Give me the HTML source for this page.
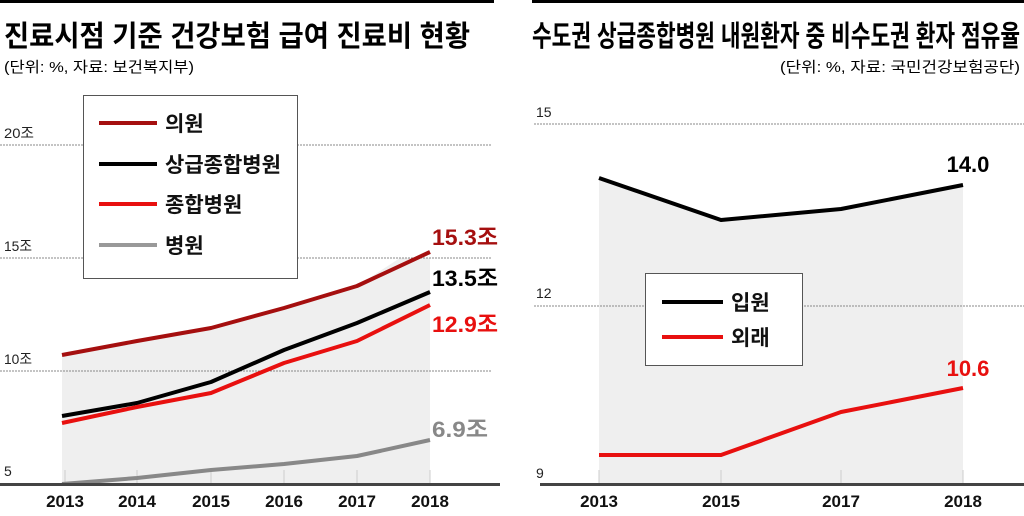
<!DOCTYPE html><html><head><meta charset="utf-8"><style>
body{margin:0;background:#fff;width:1024px;height:511px;overflow:hidden}
text{font-family:"Liberation Sans","Noto Sans CJK KR",sans-serif}
</style></head><body>
<svg width="1024" height="511" xmlns="http://www.w3.org/2000/svg">
<rect x="0" y="0" width="494" height="3" fill="#000"/>
<rect x="532" y="0" width="492" height="3" fill="#000"/>
<text x="4" y="46" font-size="29" font-weight="bold" textLength="466" lengthAdjust="spacingAndGlyphs">진료시점 기준 건강보험 급여 진료비 현황</text>
<text x="4" y="72" font-size="15" textLength="190" lengthAdjust="spacingAndGlyphs">(단위: %, 자료: 보건복지부)</text>
<text x="532" y="46" font-size="29" font-weight="bold" textLength="488" lengthAdjust="spacingAndGlyphs">수도권 상급종합병원 내원환자 중 비수도권 환자 점유율</text>
<text x="1020" y="72" font-size="15" text-anchor="end" textLength="240" lengthAdjust="spacingAndGlyphs">(단위: %, 자료: 국민건강보험공단)</text>
<!-- left chart -->
<polygon points="62,355 137,341 211,328 284,308 357,286 400,258 430,258 430,484 62,484" fill="#efefef"/>
<g stroke="#888" stroke-dasharray="2,1" stroke-width="1">
<line x1="0" y1="145" x2="492" y2="145"/><line x1="0" y1="258" x2="492" y2="258"/><line x1="0" y1="371" x2="492" y2="371"/>
</g>
<g font-size="14" fill="#222"><text x="4" y="138" textLength="30" lengthAdjust="spacingAndGlyphs">20조</text><text x="4" y="251" textLength="28" lengthAdjust="spacingAndGlyphs">15조</text><text x="4" y="364" textLength="28" lengthAdjust="spacingAndGlyphs">10조</text><text x="4" y="476">5</text></g>
<g stroke="#ccc" stroke-width="1"><line x1="65" y1="470" x2="65" y2="484"/><line x1="137" y1="470" x2="137" y2="484"/><line x1="211" y1="470" x2="211" y2="484"/><line x1="284" y1="470" x2="284" y2="484"/><line x1="357" y1="470" x2="357" y2="484"/><line x1="430" y1="470" x2="430" y2="484"/></g>
<g fill="none" stroke-width="4" stroke-linejoin="round">
<polyline points="62,355 137,341 211,328 284,308 357,286 430,252" stroke="#a50f0f"/>
<polyline points="62,416 137,403 211,382 284,350 357,323 430,292" stroke="#000"/>
<polyline points="62,423 137,407 211,393 284,363 357,341 430,305" stroke="#e8100f"/>
<polyline points="62,484 137,478 211,470 284,464 357,456 430,440" stroke="#888"/>
</g>
<rect x="0" y="483" width="500" height="3" fill="#444"/>
<g font-size="17" font-weight="bold" text-anchor="middle" fill="#111"><text x="65" y="507">2013</text><text x="137" y="507">2014</text><text x="211" y="507">2015</text><text x="284" y="507">2016</text><text x="357" y="507">2017</text><text x="430" y="507">2018</text></g>
<g font-size="22" font-weight="bold"><text x="432" y="245" fill="#a50f0f" textLength="66" lengthAdjust="spacingAndGlyphs">15.3조</text><text x="432" y="286" fill="#000" textLength="66" lengthAdjust="spacingAndGlyphs">13.5조</text><text x="432" y="332" fill="#e8100f" textLength="66" lengthAdjust="spacingAndGlyphs">12.9조</text><text x="432" y="437" fill="#888" textLength="56" lengthAdjust="spacingAndGlyphs">6.9조</text></g>
<rect x="83.5" y="95.5" width="214" height="183" fill="#fff" stroke="#555"/>
<g stroke-width="4"><line x1="99" y1="123" x2="157" y2="123" stroke="#a50f0f"/><line x1="99" y1="164" x2="157" y2="164" stroke="#000"/><line x1="99" y1="204" x2="157" y2="204" stroke="#e8100f"/><line x1="99" y1="245" x2="157" y2="245" stroke="#999"/></g>
<g font-size="21" font-weight="bold" fill="#111"><text x="165" y="131">의원</text><text x="165" y="172">상급종합병원</text><text x="165" y="212">종합병원</text><text x="165" y="253">병원</text></g>
<!-- right chart -->
<polygon points="599,178 721,220 841,209 963,185 963,484 599,484" fill="#efefef"/>
<g stroke="#888" stroke-dasharray="2,1" stroke-width="1"><line x1="534" y1="124" x2="1024" y2="124"/><line x1="534" y1="306" x2="1024" y2="306"/></g>
<g font-size="14" fill="#222"><text x="536" y="117">15</text><text x="536" y="298">12</text><text x="536" y="478">9</text></g>
<g stroke="#ccc" stroke-width="1"><line x1="599" y1="470" x2="599" y2="484"/><line x1="721" y1="470" x2="721" y2="484"/><line x1="841" y1="470" x2="841" y2="484"/><line x1="963" y1="470" x2="963" y2="484"/></g>
<rect x="645.5" y="273.5" width="157" height="92" fill="#fff" stroke="#555"/>
<g fill="none" stroke-width="4" stroke-linejoin="round">
<polyline points="599,178 721,220 841,209 963,185" stroke="#000"/>
<polyline points="599,455 721,455 841,412 963,388" stroke="#e8100f"/>
</g>
<rect x="540" y="483" width="484" height="3" fill="#444"/>
<g font-size="17" font-weight="bold" text-anchor="middle" fill="#111"><text x="599" y="507">2013</text><text x="721" y="507">2015</text><text x="841" y="507">2017</text><text x="963" y="507">2018</text></g>
<g font-size="22" font-weight="bold" text-anchor="middle"><text x="968" y="172" fill="#000">14.0</text><text x="968" y="376" fill="#e8100f">10.6</text></g>
<g stroke-width="4"><line x1="662" y1="302" x2="723" y2="302" stroke="#000"/><line x1="662" y1="337" x2="723" y2="337" stroke="#e8100f"/></g>
<g font-size="21" font-weight="bold" fill="#111"><text x="731" y="310">입원</text><text x="731" y="345">외래</text></g>
</svg>
</body></html>
